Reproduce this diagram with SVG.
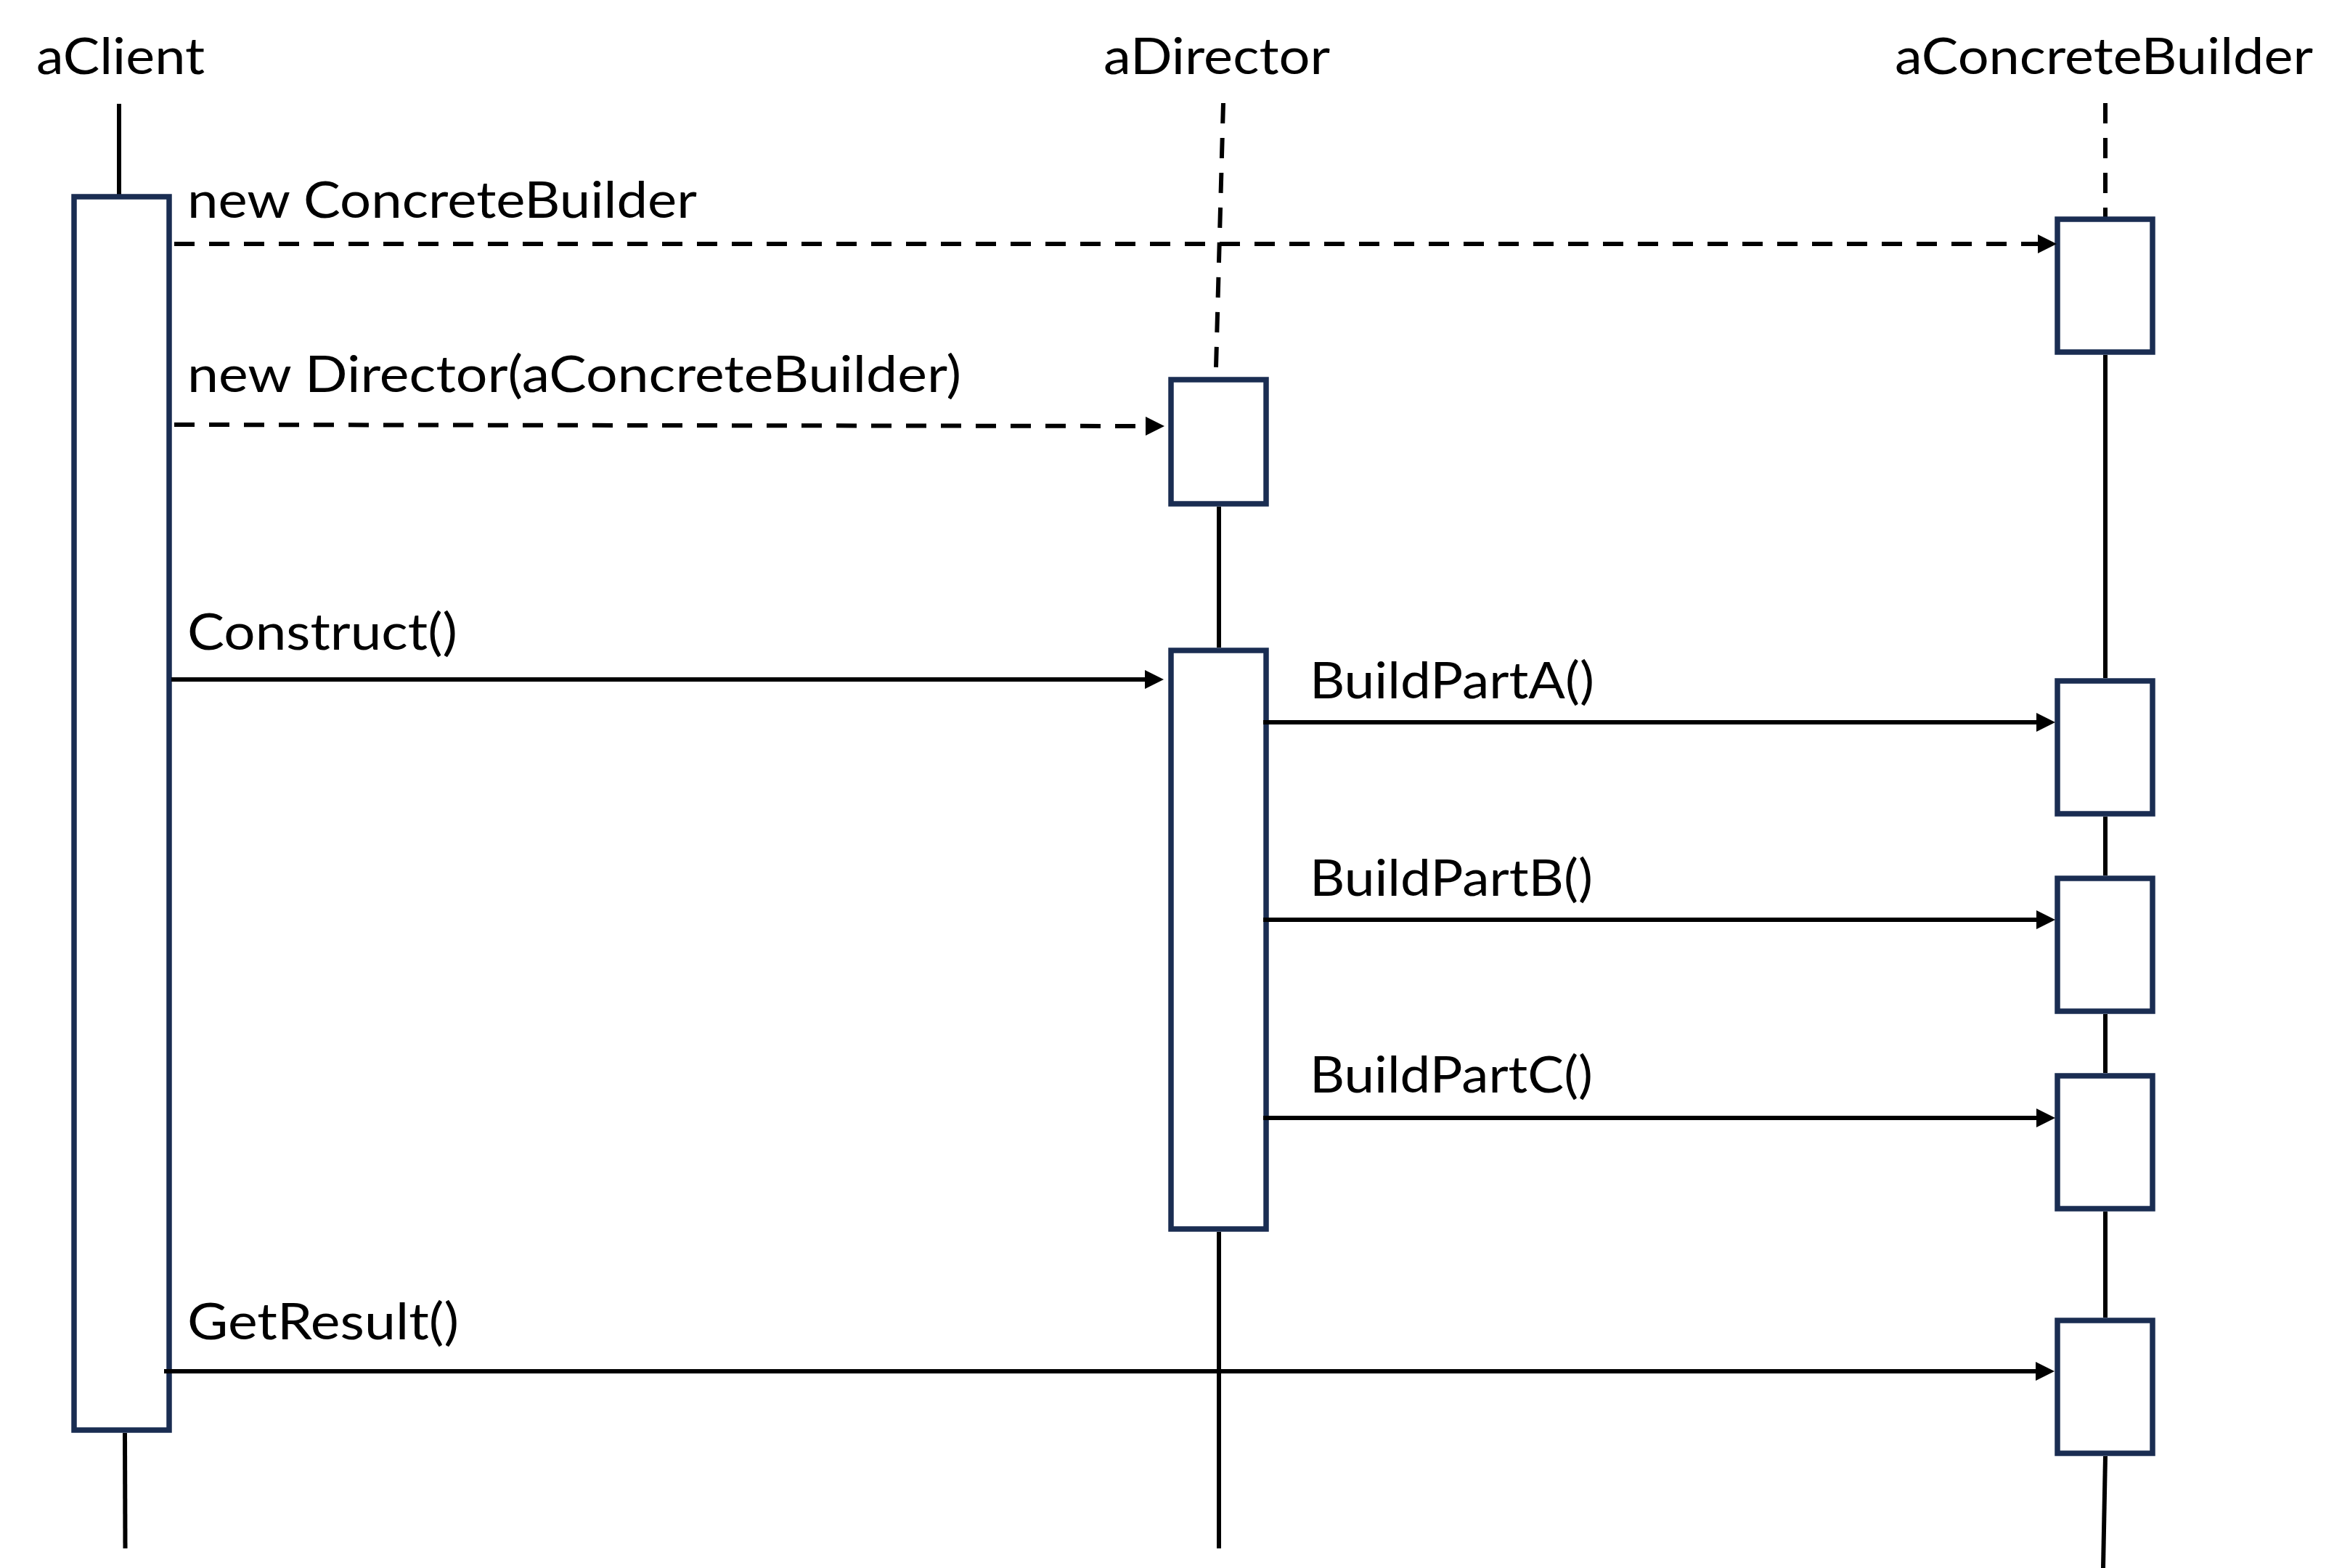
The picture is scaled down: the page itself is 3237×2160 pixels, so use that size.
<svg xmlns="http://www.w3.org/2000/svg" width="3237" height="2160" viewBox="0 0 3237 2160">
  <style>
    .lbl { font-family: Lato, "Liberation Sans", sans-serif; font-size: 70px; fill: #000; }
    .act { fill: #fff; stroke: #1A2D52; stroke-width: 7.5; }
    .life { stroke: #000; stroke-width: 6; fill: none; }
    .dash { stroke-dasharray: 28 20; }
    .msg { stroke: #000; stroke-width: 6; fill: none; marker-end: url(#arrow); }
  </style>
  <defs>
    <marker id="arrow" markerUnits="userSpaceOnUse" markerWidth="30" markerHeight="30" refX="16" refY="13" orient="auto">
      <path d="M0,0 L26,13 L0,26 Z" fill="#000" stroke="none"/>
    </marker>
  </defs>
  <rect width="3237" height="2160" fill="#fff"/>

  <g id="lifelines">
    <line class="life" x1="164" y1="143" x2="164" y2="268"/>
    <line class="life" x1="172" y1="1974" x2="172.5" y2="2133"/>
    <line class="life dash" x1="1685" y1="142" x2="1675" y2="506"/>
    <line class="life" x1="1679" y1="698" x2="1679" y2="892"/>
    <line class="life" x1="1679" y1="1697" x2="1679" y2="2133"/>
    <line class="life dash" x1="2900" y1="142" x2="2900" y2="299"/>
    <line class="life" x1="2900" y1="489" x2="2900" y2="934"/>
    <line class="life" x1="2900" y1="1125" x2="2900" y2="1206"/>
    <line class="life" x1="2900" y1="1397" x2="2900" y2="1478"/>
    <line class="life" x1="2900" y1="1669" x2="2900" y2="1815"/>
    <line class="life" x1="2900" y1="2006" x2="2897" y2="2160"/>
  </g>

  <g id="aClient">
    <text class="lbl" x="50" y="102" textLength="232" lengthAdjust="spacingAndGlyphs">aClient</text>
    <rect class="act" x="102" y="271" width="131" height="1699"/>
  </g>

  <g id="aDirector">
    <text class="lbl" x="1520" y="102" textLength="312" lengthAdjust="spacingAndGlyphs">aDirector</text>
    <rect class="act" x="1613" y="523" width="131" height="171"/>
    <rect class="act" x="1613" y="896" width="131" height="797"/>
  </g>

  <g id="aConcreteBuilder">
    <text class="lbl" x="2610" y="102" textLength="576" lengthAdjust="spacingAndGlyphs">aConcreteBuilder</text>
    <rect class="act" x="2834" y="302" width="131" height="183"/>
    <rect class="act" x="2834" y="938" width="131" height="183"/>
    <rect class="act" x="2834" y="1210" width="131" height="183"/>
    <rect class="act" x="2834" y="1482" width="131" height="183"/>
    <rect class="act" x="2834" y="1819" width="131" height="183"/>
  </g>

  <g id="connectors">
    <line class="msg dash" x1="240" y1="336" x2="2823" y2="336"/>
    <line class="msg dash" x1="240" y1="585" x2="1594" y2="587"/>
    <line class="msg" x1="236" y1="936" x2="1593" y2="936"/>
    <line class="msg" x1="1740" y1="995" x2="2821" y2="995"/>
    <line class="msg" x1="1740" y1="1267" x2="2821" y2="1267"/>
    <line class="msg" x1="1740" y1="1540" x2="2821" y2="1540"/>
    <line class="msg" x1="226" y1="1889" x2="2820" y2="1889"/>
  </g>

  <g id="labels">
    <text class="lbl" x="258" y="300" textLength="702" lengthAdjust="spacingAndGlyphs">new ConcreteBuilder</text>
    <text class="lbl" x="258" y="540" textLength="1066" lengthAdjust="spacingAndGlyphs">new Director(aConcreteBuilder)</text>
    <text class="lbl" x="258" y="895" textLength="372" lengthAdjust="spacingAndGlyphs">Construct()</text>
    <text class="lbl" x="1804" y="962" textLength="392" lengthAdjust="spacingAndGlyphs">BuildPartA()</text>
    <text class="lbl" x="1804" y="1234" textLength="390" lengthAdjust="spacingAndGlyphs">BuildPartB()</text>
    <text class="lbl" x="1804" y="1505" textLength="390" lengthAdjust="spacingAndGlyphs">BuildPartC()</text>
    <text class="lbl" x="258" y="1845" textLength="374" lengthAdjust="spacingAndGlyphs">GetResult()</text>
  </g>
</svg>
